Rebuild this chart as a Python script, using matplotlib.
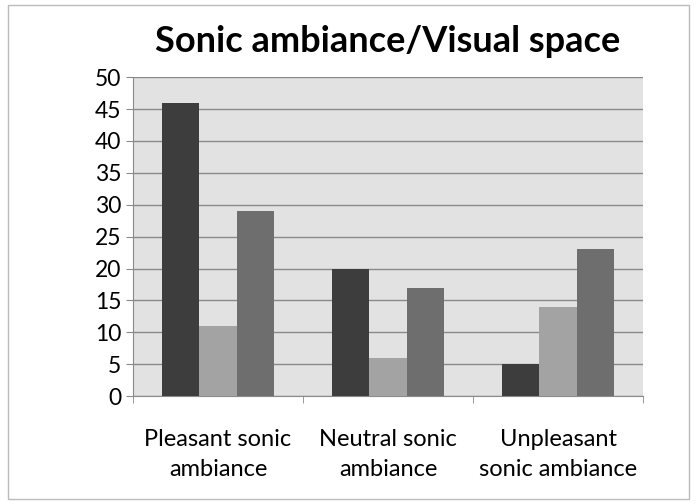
import matplotlib.pyplot as plt
import numpy as np
from matplotlib.patches import Rectangle

categories = ['Pleasant sonic\nambiance', 'Neutral sonic\nambiance', 'Unpleasant\nsonic ambiance']
series1 = [46, 20, 5]
series2 = [11, 6, 14]
series3 = [29, 17, 23]

plt.rcParams['font.family'] = ['Lato', 'DejaVu Sans']

fig = plt.figure(figsize=(6.96, 5.04), dpi=100)
ax = fig.add_axes([0.191, 0.214, 0.733, 0.633])

# chart border
fig.patches.append(Rectangle((0.012, 0.01), 0.978, 0.98, transform=fig.transFigure,
                             fill=False, edgecolor='#bbbbbb', linewidth=1))

barWidth = 0.22
x = np.arange(len(categories))
ax.bar(x - barWidth, series1, width=barWidth, color='#3d3d3d', zorder=3)
ax.bar(x, series2, width=barWidth, color='#a3a3a3', zorder=3)
ax.bar(x + barWidth, series3, width=barWidth, color='#6e6e6e', zorder=3)

ax.set_facecolor('#e2e2e2')
ax.set_xlim(-0.5, 2.5)
ax.set_ylim(0, 50)
ax.set_yticks(range(0, 51, 5))
ax.yaxis.grid(True, color='#8a8a8a', linewidth=1, zorder=0)
ax.set_xticks(x)
ax.set_xticklabels(categories, fontsize=17, linespacing=1.5)
ax.set_xticks([-0.5, 0.5, 1.5, 2.5], minor=True)
ax.tick_params(axis='x', which='major', length=0, pad=24)
ax.tick_params(axis='x', which='minor', length=5, color='#8a8a8a')
ax.tick_params(axis='y', labelsize=16.5, length=5, color='#8a8a8a')
for s in ['top', 'right']:
    ax.spines[s].set_visible(False)
ax.spines['left'].set_color('#8a8a8a')
ax.spines['bottom'].set_color('#8a8a8a')

fig.text(0.557, 0.917, 'Sonic ambiance/Visual space', ha='center', va='center',
         fontsize=26, fontweight='bold')

plt.savefig('out.png', dpi=100)
